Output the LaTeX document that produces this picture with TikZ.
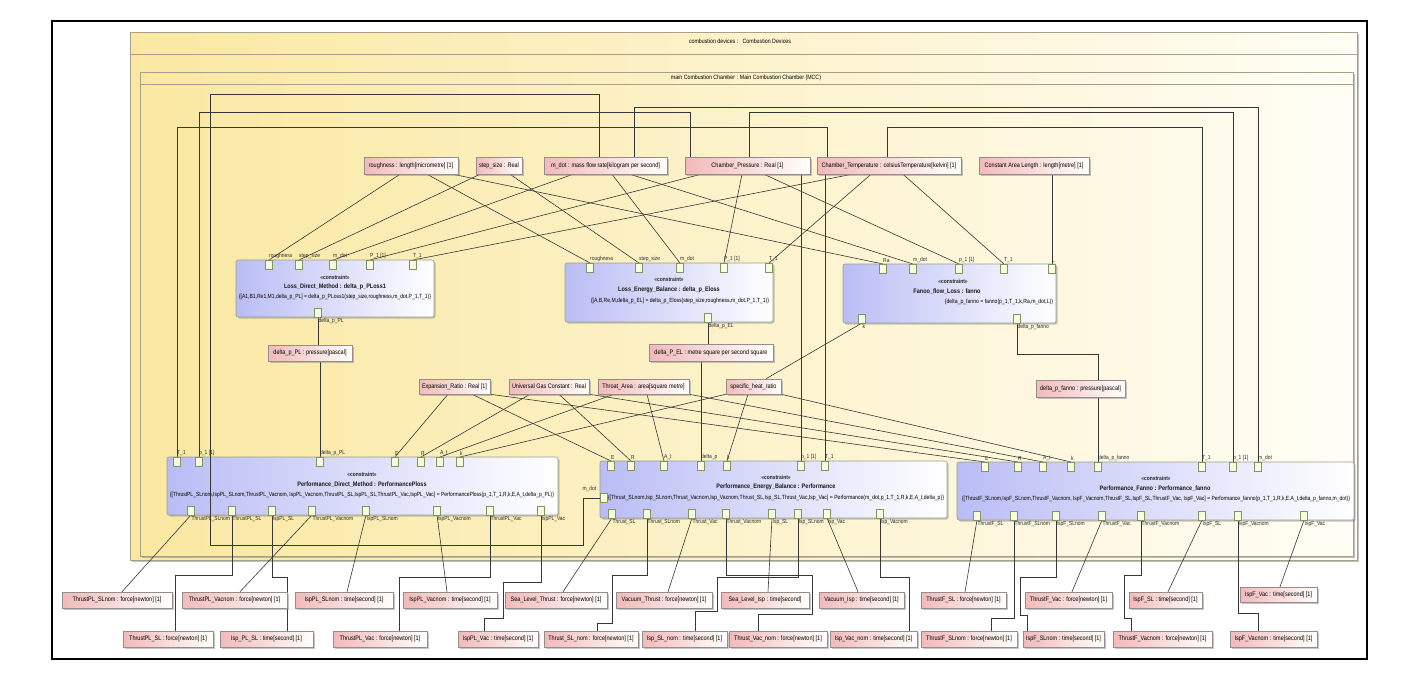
\documentclass[tikz,border=0pt]{standalone}
\usepackage{fontspec}
\setmainfont{Liberation Sans}[FakeStretch=0.85]
\usetikzlibrary{shadows}
\definecolor{pkgL}{RGB}{250,232,162}
\definecolor{pkgR}{RGB}{255,253,245}
\definecolor{pkgD}{RGB}{165,160,135}
\definecolor{blkL}{RGB}{186,189,245}
\definecolor{blkR}{RGB}{255,255,255}
\definecolor{blkD}{RGB}{150,160,140}
\definecolor{valL}{RGB}{242,186,186}
\definecolor{valR}{RGB}{255,255,252}
\definecolor{valD}{RGB}{150,140,140}
\definecolor{prtF}{RGB}{250,252,222}
\definecolor{prtD}{RGB}{125,150,100}
\definecolor{wirec}{RGB}{55,55,55}
\definecolor{labc}{RGB}{45,45,45}
\pgfdeclarelayer{back}
\pgfdeclarelayer{wires}
\pgfsetlayers{back,wires,main}
\newsavebox\fitbox
\newcommand\fitto[2]{\sbox\fitbox{#2}\pgfmathsetmacro\fitfac{min(1,(#1)/\the\wd\fitbox)}\scalebox{\fitfac}[1]{\usebox\fitbox}}
\tikzset{
  pkg/.style={draw=pkgD, line width=0.7pt, left color=pkgL, right color=pkgR,
    drop shadow={shadow xshift=2pt, shadow yshift=-2pt, fill=gray, opacity=0.5}},
  val/.style={rectangle, draw=valD, line width=0.5pt, left color=valL, right color=valR,
    inner sep=0pt, font=\fontsize{6.5}{7.5}\selectfont, text=black,
    drop shadow={shadow xshift=1.5pt, shadow yshift=-1.5pt, fill=gray, opacity=0.45}},
  blk/.style={rectangle, rounded corners=2pt, draw=blkD, line width=0.6pt, left color=blkL, right color=blkR,
    inner sep=0pt, drop shadow={shadow xshift=1.5pt, shadow yshift=-1.5pt, fill=gray, opacity=0.45}},
  port/.style={rectangle, draw=prtD, fill=prtF, line width=0.5pt, minimum width=7pt, minimum height=9pt, inner sep=0pt},
  plab/.style={font=\fontsize{5.8}{6.5}\selectfont, text=labc, inner sep=0.5pt},
  ctx/.style={font=\fontsize{5.8}{6.5}\selectfont\bfseries, text=black!85, inner sep=0pt},
  ctn/.style={font=\fontsize{6.5}{7.5}\selectfont\bfseries, text=black!90, inner sep=0pt},
  cte/.style={font=\fontsize{6}{7}\selectfont, text=black, inner sep=0pt},
  ttl/.style={font=\fontsize{6.2}{7}\selectfont, text=black, inner sep=0pt},
  wire/.style={draw=wirec, line width=0.6pt},
}
\newcommand\valnode[6]{\node[val, minimum width={#4-#2}, minimum height={#5-#3}] (#1) at ({(#2+#4)/2},{(#3+#5)/2}) {\fitto{#4-#2-6}{#6}};}
\newcommand\cblk[5]{\node[blk, minimum width={#4-#2}, minimum height={#5-#3}] (#1) at ({(#2+#4)/2},{(#3+#5)/2}) {};}
\newcommand\tport[4]{\node[port, anchor=north, label={[plab, anchor=south west, xshift=-0.5pt, yshift=0.5pt]north:{#4}}] (#1) at (#2,#3) {};}
\newcommand\bport[4]{\node[port, anchor=south, label={[plab, anchor=north west, yshift=-0.5pt]south:{#4}}] (#1) at (#2,#3) {};}
\begin{document}
\begin{tikzpicture}[x=1pt,y=-1pt]
\useasboundingbox (0,0) rectangle (1426,675);
\begin{pgfonlayer}{back}
\fill[white] (0,0) rectangle (1426,675);
\path[pkg] (130,32) rectangle (1357,560);
\draw[pkgD, line width=0.6pt] (130,54) -- (1357,54);
\path[pkg] (140,72) rectangle (1353,556);
\draw[pkgD, line width=0.6pt] (140,84) -- (1353,84);
\end{pgfonlayer}
\node[ttl] (tout) at (740,41) {combustion devices :\ \ \ Combustion Devices};
\node[ttl] (tin) at (746,78) {main Combustion Chamber : Main Combustion Chamber (MCC)};

% value properties, top row
\valnode{rough}{364}{157}{458}{174}{roughness : length[micrometre] [1]}
\valnode{step}{476}{157}{522}{174}{step\_size : Real}
\valnode{mdot}{544}{157}{667}{174}{m\_dot : mass flow rate[kilogram per second]}
\valnode{cp}{685}{157}{810}{174}{Chamber\_Pressure : Real [1]}
\valnode{ct}{817}{157}{961}{174}{Chamber\_Temperature : celsiusTemperature[kelvin] [1]}
\valnode{cal}{979}{157}{1089}{174}{Constant Area Length : length[metre] [1]}
% middle value properties
\valnode{dpl}{268}{345}{352}{361}{delta\_p\_PL : pressure[pascal]}
\valnode{dpel}{649}{344}{773}{361}{delta\_P\_EL : metre square per second square}
\valnode{dpf}{1036}{380}{1125}{397}{delta\_p\_fanno : pressure[pascal]}
\valnode{er}{419}{379}{490}{394}{Expansion\_Ratio : Real [1]}
\valnode{ugc}{509}{379}{589}{394}{Universal Gas Constant : Real}
\valnode{ta}{598}{379}{689}{394}{Throat\_Area : area[square metre]}
\valnode{shr}{726}{379}{781}{394}{specific\_heat\_ratio}
% bottom row A
\valnode{tpsln}{62}{592}{172}{608}{ThrustPL\_SLnom : force[newton] [1]}
\valnode{tpvn}{182}{592}{287}{608}{ThrustPL\_Vacnom : force[newton] [1]}
\valnode{ipsln}{295}{592}{393}{608}{IspPL\_SLnom : time[second] [1]}
\valnode{ipvn}{403}{592}{497}{608}{IspPL\_Vacnom : time[second] [1]}
\valnode{slt}{505}{592}{607}{608}{Sea\_Level\_Thrust : force[newton] [1]}
\valnode{vt}{616}{592}{712}{608}{Vacuum\_Thrust : force[newton] [1]}
\valnode{sli}{721}{592}{809}{608}{Sea\_Level\_Isp : time[second]}
\valnode{vi}{819}{592}{904}{608}{Vacuum\_Isp : time[second] [1]}
\valnode{tfsl}{921}{592}{1006}{608}{ThrustF\_SL : force[newton] [1]}
\valnode{tfv}{1025}{592}{1112}{608}{ThrustF\_Vac : force[newton] [1]}
\valnode{ifsl}{1129}{592}{1202}{608}{IspF\_SL : time[second] [1]}
\valnode{ifv}{1240}{587}{1317}{602}{IspF\_Vac : time[second] [1]}
% bottom row B
\valnode{tpsl}{123}{631}{213}{647}{ThrustPL\_SL : force[newton] [1]}
\valnode{ipsl}{220}{631}{313}{647}{Isp\_PL\_SL : time[second] [1]}
\valnode{tpv}{333}{631}{427}{647}{ThrustPL\_Vac : force[newton] [1]}
\valnode{ipv}{458}{631}{538}{647}{IspPL\_Vac : time[second] [1]}
\valnode{tsln}{544}{631}{638}{647}{Thrust\_SL\_nom : force[newton] [1]}
\valnode{isln}{642}{631}{727}{647}{Isp\_SL\_nom : time[second] [1]}
\valnode{tvn}{729}{631}{827}{647}{Thrust\_Vac\_nom : force[newton] [1]}
\valnode{ivn}{830}{631}{917}{647}{Isp\_Vac\_nom : time[second] [1]}
\valnode{tfsln}{921}{631}{1017}{647}{ThrustF\_SLnom : force[newton] [1]}
\valnode{ifsln}{1023}{631}{1104}{647}{IspF\_SLnom : time[second] [1]}
\valnode{tfvn}{1113}{631}{1212}{647}{ThrustF\_Vacnom : force[newton] [1]}
\valnode{ifvn}{1230}{631}{1317}{647}{IspF\_Vacnom : time[second] [1]}

% constraint blocks
\cblk{b1}{236}{260}{434}{317}
\node[ctx] (b1x) at (335,277) {«constraint»};
\node[ctn] (b1n) at (335,287) {Loss\_Direct\_Method : delta\_p\_PLoss1};
\node[cte] (b1q) at (335,297) {\fitto{192}{\{[A1,B1,Re1,M1,delta\_p\_PL] = delta\_p\_PLoss1(step\_size,roughness,m\_dot,P\_1,T\_1)\}}};
\tport{b1r}{269}{260}{roughness}
\tport{b1s}{299}{260}{step\_size}
\tport{b1m}{333}{260}{m\_dot}
\tport{b1p}{370}{260}{P\_1 [1]}
\tport{b1t}{413}{260}{T\_1}
\bport{b1o}{318}{317}{delta\_p\_PL}

\cblk{b2}{565}{263}{773}{322}
\node[ctx] (b2x) at (669,279) {«constraint»};
\node[ctn] (b2n) at (669,290) {Loss\_Energy\_Balance : delta\_p\_Eloss};
\node[cte] (b2q) at (680,301) {\fitto{178}{\{[A,B,Re,M,delta\_p\_EL] = delta\_p\_Eloss(step\_size,roughness,m\_dot,P\_1,T\_1)\}}};
\tport{b2r}{590}{263}{roughness}
\tport{b2s}{639}{263}{step\_size}
\tport{b2m}{680}{263}{m\_dot}
\tport{b2p}{724}{263}{P\_1 [1]}
\tport{b2t}{769}{263}{T\_1}
\bport{b2o}{708}{322}{delta\_p\_EL}

\cblk{b3}{843}{264}{1056}{323}
\node[ctx] (b3x) at (953,281) {«constraint»};
\node[ctn] (b3n) at (947,292) {Fanoo\_flow\_Loss : fanno};
\node[cte] (b3q) at (999,302) {\{delta\_p\_fanno = fanno(p\_1,T\_1,k,Ra,m\_dot,L)\}};
\tport{b3a}{883}{264}{Ra}
\tport{b3m}{913}{264}{m\_dot}
\tport{b3p}{959}{264}{p\_1 [1]}
\tport{b3t}{1004}{264}{T\_1}
\tport{b3l}{1052}{264}{L}
\bport{b3k}{862}{323}{k}
\bport{b3o}{1017}{323}{delta\_p\_fanno}

\cblk{b4}{167}{457}{558}{515}
\node[ctx] (b4x) at (362,474) {«constraint»};
\node[ctn] (b4n) at (362,485) {Performance\_Direct\_Method : PerformancePloss};
\node[cte] (b4q) at (362,495) {\fitto{384}{\{[ThrustPL\_SLnom,IspPL\_SLnom,ThrustPL\_Vacnom, IspPL\_Vacnom,ThrustPL\_SL,IspPL\_SL,ThrustPL\_Vac,IspPL\_Vac] = PerformancePloss(p\_1,T\_1,R,k,E,A\_t,delta\_p\_PL)\}}};
\tport{b4t}{177}{457}{T\_1}
\tport{b4p}{199}{457}{p\_1 [1]}
\tport{b4d}{320}{457}{delta\_p\_PL}
\tport{b4e}{395}{457}{E}
\tport{b4r}{421}{457}{R}
\tport{b4a}{440}{457}{A\_t}
\tport{b4k}{460}{457}{k}
\bport{b4o1}{191}{515}{ThrustPL\_SLnom}
\bport{b4o2}{232}{515}{ThrustPL\_SL}
\bport{b4o3}{272}{515}{IspPL\_SL}
\bport{b4o4}{312}{515}{ThrustPL\_Vacnom}
\bport{b4o5}{366}{515}{IspPL\_SLnom}
\bport{b4o6}{437}{515}{IspPL\_Vacnom}
\bport{b4o7}{490}{515}{ThrustPL\_Vac}
\bport{b4o8}{541}{515}{IspPL\_Vac}

\cblk{b5}{600}{461}{947}{518}
\node[ctx] (b5x) at (776,477) {«constraint»};
\node[ctn] (b5n) at (776,487) {Performance\_Energy\_Balance : Performance};
\node[cte] (b5q) at (776,498) {\fitto{336}{\{[Thrust\_SLnom,Isp\_SLnom,Thrust\_Vacnom,Isp\_Vacnom,Thrust\_SL,Isp\_SL,Thrust\_Vac,Isp\_Vac] = Performance(m\_dot,p\_1,T\_1,R,k,E,A\_t,delta\_p)\}}};
\tport{b5e}{611}{461}{E}
\tport{b5r}{631}{461}{R}
\tport{b5a}{664}{461}{A\_t}
\tport{b5d}{701}{461}{delta\_p}
\tport{b5k}{727}{461}{k}
\tport{b5p}{801}{461}{p\_1 [1]}
\tport{b5t}{825}{461}{T\_1}
\node[port, anchor=west, label={[plab, anchor=south east, xshift=-3pt, yshift=1pt]north west:{m\_dot}}] (b5m) at (600,498) {};
\bport{b5o1}{612}{518}{Thrust\_SL}
\bport{b5o2}{647}{518}{Thrust\_SLnom}
\bport{b5o3}{692}{518}{Thrust\_Vac}
\bport{b5o4}{726}{518}{Thrust\_Vacnom}
\bport{b5o5}{772}{518}{Isp\_SL}
\bport{b5o6}{798}{518}{Isp\_SLnom}
\bport{b5o7}{827}{518}{Isp\_Vac}
\bport{b5o8}{880}{518}{Isp\_Vacnom}

\cblk{b6}{957}{462}{1354}{520}
\node[ctx] (b6x) at (1156,478) {«constraint»};
\node[ctn] (b6n) at (1155,489) {Performance\_Fanno : Performance\_fanno};
\node[cte] (b6q) at (1156,499) {\fitto{388}{\{[ThrustF\_SLnom,IspF\_SLnom,ThrustF\_Vacnom, IspF\_Vacnom,ThrustF\_SL,IspF\_SL,ThrustF\_Vac, IspF\_Vac] = Performance\_fanno(p\_1,T\_1,R,k,E,A\_t,delta\_p\_fanno,m\_dot)\}}};
\tport{b6e}{985}{462}{E}
\tport{b6r}{1018}{462}{R}
\tport{b6a}{1043}{462}{A\_t}
\tport{b6k}{1071}{462}{k}
\tport{b6d}{1098}{462}{delta\_p\_fanno}
\tport{b6t}{1202}{462}{T\_1}
\tport{b6p}{1233}{462}{p\_1 [1]}
\tport{b6m}{1258}{462}{m\_dot}
\bport{b6o1}{977}{520}{ThrustF\_SL}
\bport{b6o2}{1014}{520}{ThrustF\_SLnom}
\bport{b6o3}{1056}{520}{IspF\_SLnom}
\bport{b6o4}{1102}{520}{ThrustF\_Vac}
\bport{b6o5}{1141}{520}{ThrustF\_Vacnom}
\bport{b6o6}{1202}{520}{IspF\_SL}
\bport{b6o7}{1238}{520}{IspF\_Vacnom}
\bport{b6o8}{1304}{520}{IspF\_Vac}

\begin{pgfonlayer}{wires}
% top value properties to loss blocks
\draw[wire] (400,0 |- rough.south) -- (b1r.north);
\draw[wire] (427,0 |- rough.south) -- (b2r.north);
\draw[wire] (453,0 |- rough.south) -- (b3a.north);
\draw[wire] (480,0 |- step.south) -- (b1s.north);
\draw[wire] (510,0 |- step.south) -- (b2s.north);
\draw[wire] (573,0 |- mdot.south) -- (b1m.north);
\draw[wire] (612,0 |- mdot.south) -- (b2m.north);
\draw[wire] (630,0 |- mdot.south) -- (b3m.north);
\draw[wire] (701,0 |- cp.south) -- (b1p.north);
\draw[wire] (742,0 |- cp.south) -- (b2p.north);
\draw[wire] (764,0 |- cp.south) -- (b3p.north);
\draw[wire] (852,0 |- ct.south) -- (b1t.north);
\draw[wire] (871,0 |- ct.south) -- (b2t.north);
\draw[wire] (903,0 |- ct.south) -- (b3t.north);
\draw[wire] (b3l.north |- cal.south) -- (b3l.north);
\draw[wire] (b5p.north |- cp.south) -- (b5p.north);
\draw[wire] (b5t.north |- ct.south) -- (b5t.north);
% routed over the top
\draw[wire] (634,0 |- mdot.north) -- (634,107) -- (b6m.north |- 0,107) -- (b6m.north);
\draw[wire] (690,0 |- cp.north) -- (690,112) -- (b4p.north |- 0,112) -- (b4p.north);
\draw[wire] (749,0 |- cp.north) -- (749,112) -- (b6p.north |- 0,112) -- (b6p.north);
\draw[wire] (827,0 |- ct.north) -- (827,127) -- (b4t.north |- 0,127) -- (b4t.north);
\draw[wire] (887,0 |- ct.north) -- (887,127) -- (b6t.north |- 0,127) -- (b6t.north);
% deltas
\draw[wire] (b1o.south) -- (b1o.south |- dpl.north);
\draw[wire] (b4d.north |- dpl.south) -- (b4d.north);
\draw[wire] (b2o.south) -- (b2o.south |- dpel.north);
\draw[wire] (b5d.north |- dpel.south) -- (b5d.north);
\draw[wire] (b3o.south) -- (b3o.south |- 0,354) -- (b6d.north |- 0,354) -- (b6d.north |- dpf.north);
\draw[wire] (b6d.north |- dpf.south) -- (b6d.north);
\draw[wire] (b3k.south) -- (766,0 |- shr.north);
% middle value properties to performance blocks
\draw[wire] (448,0 |- er.south) -- (b4e.north);
\draw[wire] (472,0 |- er.south) -- (b5e.north);
\draw[wire] (er.south east) -- (b6e.north);
\draw[wire] (530,0 |- ugc.south) -- (b4r.north);
\draw[wire] (559,0 |- ugc.south) -- (b5r.north);
\draw[wire] (ugc.south east) -- (b6r.north);
\draw[wire] (614,0 |- ta.south) -- (b4a.north);
\draw[wire] (647,0 |- ta.south) -- (b5a.north);
\draw[wire] (ta.south east) -- (b6a.north);
\draw[wire] (shr.south west) -- (b4k.north);
\draw[wire] (748,0 |- shr.south) -- (b5k.north);
\draw[wire] (shr.south east) -- (b6k.north);
% outputs of block 4
\draw[wire] (b4o1.south) -- (122,0 |- tpsln.north);
\draw[wire] (b4o2.south) -- (b4o2.south |- 0,575) -- (175,575) -- (175,0 |- tpsl.north);
\draw[wire] (b4o3.south) -- (b4o3.south |- 0,577) -- (287,577) -- (287,0 |- ipsl.north);
\draw[wire] (b4o4.south) -- (240,0 |- tpvn.north);
\draw[wire] (b4o5.south) -- (347,0 |- ipsln.north);
\draw[wire] (b4o6.south) -- (447,0 |- ipvn.north);
\draw[wire] (b4o7.south) -- (b4o7.south |- 0,577) -- (399,577) -- (399,0 |- tpv.north);
\draw[wire] (b4o8.south) -- (b4o8.south |- 0,582) -- (503,582) -- (503,618) -- (484,618) -- (484,0 |- ipv.north);
% outputs of block 5
\draw[wire] (b5o1.south) -- (563,0 |- slt.north);
\draw[wire] (b5o2.south) -- (b5o2.south |- 0,575) -- (612,575) -- (612,623) -- (597,623) -- (597,0 |- tsln.north);
\draw[wire] (b5o3.south) -- (668,0 |- vt.north);
\draw[wire] (b5o4.south) -- (b5o4.south |- 0,575) -- (812,575) -- (812,614) -- (758,614) -- (758,0 |- tvn.north);
\draw[wire] (b5o5.south) -- (768,0 |- sli.north);
\draw[wire] (b5o6.south) -- (b5o6.south |- 0,577) -- (717,577) -- (717,611) -- (695,611) -- (695,0 |- isln.north);
\draw[wire] (b5o7.south) -- (858,0 |- vi.north);
\draw[wire] (b5o8.south) -- (b5o8.south |- 0,577) -- (909,577) -- (909,0 |- ivn.north);
% outputs of block 6
\draw[wire] (b6o1.south) -- (965,0 |- tfsl.north);
\draw[wire] (b6o2.south) -- (b6o2.south |- 0,618) -- (991,618) -- (991,0 |- tfsln.north);
\draw[wire] (b6o3.south) -- (b6o3.south |- 0,577) -- (1020,577) -- (1020,615) -- (1027,615) -- (1027,0 |- ifsln.north);
\draw[wire] (b6o4.south) -- (1072,0 |- tfv.north);
\draw[wire] (b6o5.south) -- (b6o5.south |- 0,575) -- (1124,575) -- (1124,618) -- (1131,618) -- (1131,0 |- tfvn.north);
\draw[wire] (b6o6.south) -- (1168,0 |- ifsl.north);
\draw[wire] (b6o7.south) -- (b6o7.south |- 0,613) -- (1258,613) -- (1258,0 |- ifvn.north);
\draw[wire] (b6o8.south) -- (1280,0 |- ifv.north);
\end{pgfonlayer}
% m_dot route drawn across block 4
\draw[wire] (599,0 |- mdot.north) -- (599,94) -- (210,94) -- (210,545) -- (583,545) -- (583,0 |- b5m.west) -- (b5m.west);
\draw[line width=2pt] (52,21) rectangle (1367,659);
\end{tikzpicture}
\end{document}
